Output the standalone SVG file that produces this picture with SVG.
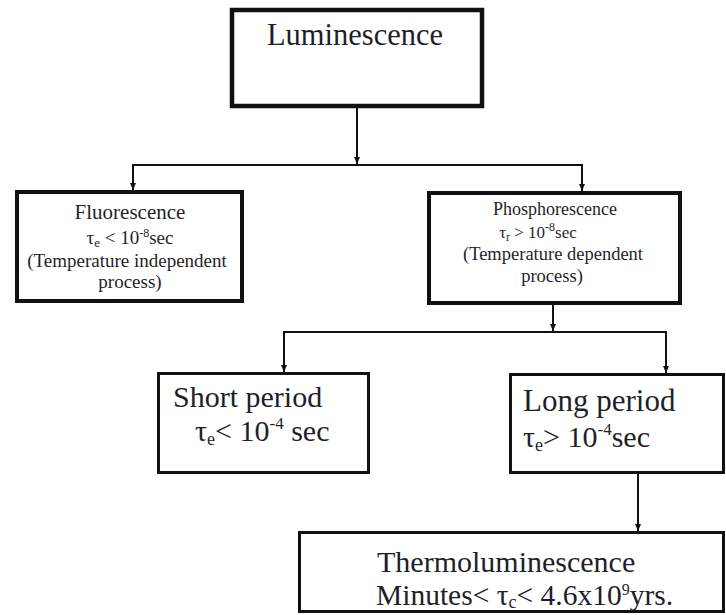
<svg xmlns="http://www.w3.org/2000/svg" width="726" height="615" viewBox="0 0 726 615">
<style>
.box{fill:#fff;stroke:#111}
.t{font-family:"Liberation Serif","Times New Roman",serif;fill:#1f1f2a;text-anchor:middle}
.tl{font-family:"Liberation Serif","Times New Roman",serif;fill:#1f1f2a}
.c{fill:none;stroke:#111;stroke-width:2}
</style>
<defs>
<marker id="ah" markerUnits="userSpaceOnUse" markerWidth="8" markerHeight="8" refX="7" refY="4" orient="auto">
<path d="M0,1 L7,4 L0,7 z" fill="#111"/>
</marker>
</defs>
<rect width="726" height="615" fill="#fff"/>
<g id="connectors">
<path class="c" d="M357 108 V164" marker-end="url(#ah)"/>
<path class="c" d="M357 165 H133 V190" marker-end="url(#ah)"/>
<path class="c" d="M357 165 H582 V191" marker-end="url(#ah)"/>
<path class="c" d="M553 305 V331" marker-end="url(#ah)"/>
<path class="c" d="M553 332 H284 V372" marker-end="url(#ah)"/>
<path class="c" d="M553 332 H666 V373" marker-end="url(#ah)"/>
<path class="c" d="M638 474 V531" marker-end="url(#ah)"/>
</g>
<g id="luminescence">
<rect class="box" x="232" y="10" width="250" height="96" stroke-width="4.5"/>
<text class="t" x="355" y="45" font-size="30.5">Luminescence</text>
</g>
<g id="fluorescence">
<rect class="box" x="17" y="192" width="225" height="109" stroke-width="4"/>
<text class="t" x="130" y="219" font-size="21">Fluorescence</text>
<text class="t" x="130" y="244" font-size="19">τ<tspan font-size="13" dy="3">e</tspan><tspan dy="-3"> &lt; 10</tspan><tspan font-size="12" dy="-7">-8</tspan><tspan dy="7">sec</tspan></text>
<text class="t" x="127" y="267" font-size="19">(Temperature independent</text>
<text class="t" x="130" y="288" font-size="19">process)</text>
</g>
<g id="phosphorescence">
<rect class="box" x="429" y="193" width="251" height="110" stroke-width="4"/>
<text class="t" x="555" y="215" font-size="18">Phosphorescence</text>
<text class="t" x="538" y="238" font-size="17">τ<tspan font-size="12" dy="3">r</tspan><tspan dy="-3"> &gt; 10</tspan><tspan font-size="12" dy="-7">-8</tspan><tspan dy="7">sec</tspan></text>
<text class="t" x="553" y="260" font-size="18.5">(Temperature dependent</text>
<text class="t" x="552" y="282" font-size="18.5">process)</text>
</g>
<g id="short-period">
<rect class="box" x="158.5" y="373.5" width="210" height="99" stroke-width="3"/>
<text class="tl" x="173" y="407" font-size="30">Short period</text>
<text class="tl" x="195" y="441" font-size="30">τ<tspan font-size="18" dy="4">e</tspan><tspan dy="-4">&lt; 10</tspan><tspan font-size="17" dy="-12">-4</tspan><tspan dy="12"> sec</tspan></text>
</g>
<g id="long-period">
<rect class="box" x="510.5" y="374.5" width="213" height="98" stroke-width="3"/>
<text class="tl" x="523" y="411" font-size="31">Long period</text>
<text class="tl" x="523" y="447" font-size="30">τ<tspan font-size="18" dy="4">e</tspan><tspan dy="-4">&gt; 10</tspan><tspan font-size="17" dy="-12">-4</tspan><tspan dy="12">sec</tspan></text>
</g>
<g id="thermoluminescence">
<rect class="box" x="299.5" y="532.5" width="424" height="79" stroke-width="3"/>
<text class="tl" x="377" y="572" font-size="30">Thermoluminescence</text>
<text class="tl" x="376" y="605" font-size="29.5">Minutes&lt; τ<tspan font-size="18" dy="3">c</tspan><tspan dy="-3">&lt; 4.6x10</tspan><tspan font-size="16" dy="-10">9</tspan><tspan dy="10">yrs.</tspan></text>
</g>
</svg>
